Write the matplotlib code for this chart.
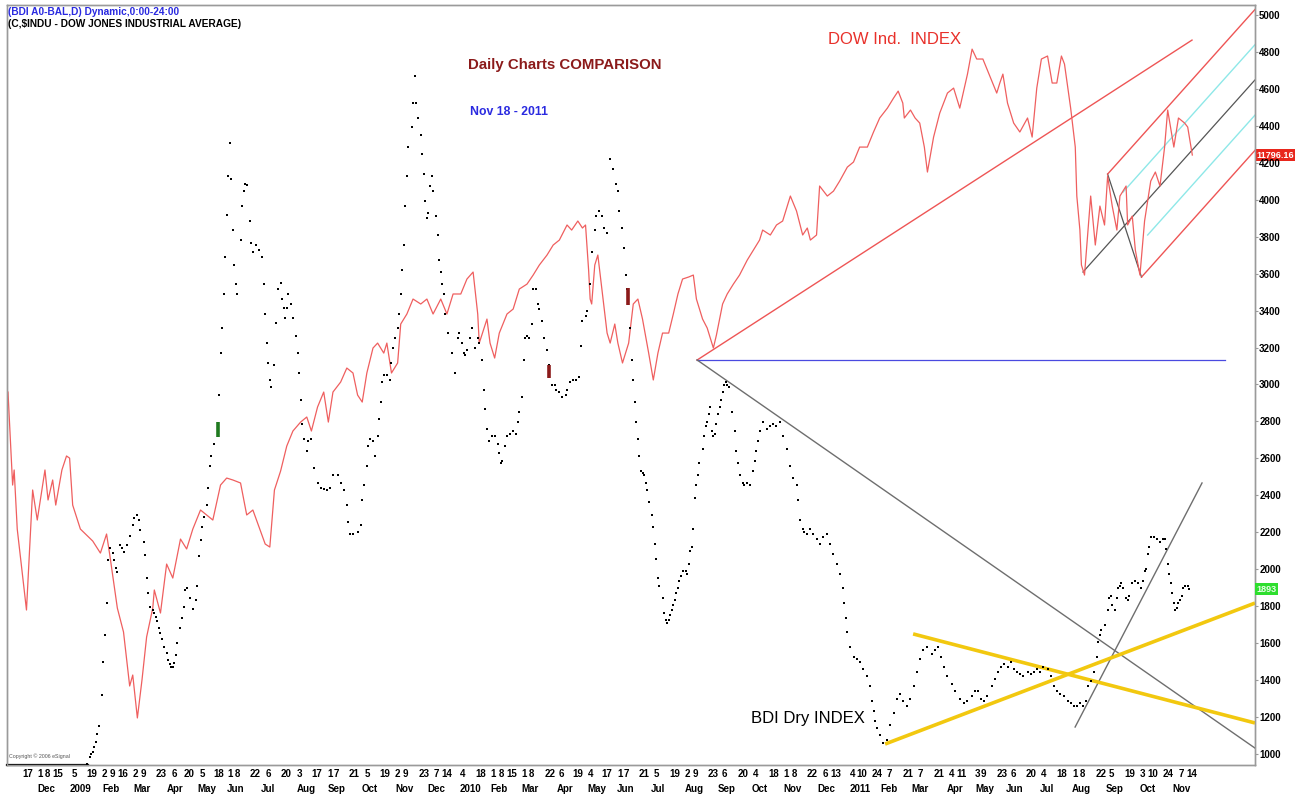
import numpy as np
import matplotlib
matplotlib.use('Agg')
import matplotlib.pyplot as plt
from matplotlib.transforms import blended_transform_factory

plt.rcParams['font.family'] = ['Liberation Sans', 'DejaVu Sans']

# ---------------- data (trading-day number, value) ----------------
DOW_DAY = [0, 3, 4, 6, 12, 16, 19, 24, 26, 29, 31, 35, 38, 40, 42, 47, 51, 55, 60, 64, 66, 71, 75, 79, 81, 84,
           87, 90, 94, 95, 99, 103, 107, 112, 116, 120, 125, 129, 133, 138, 142, 146, 151, 155, 159, 167, 170,
           173, 177, 181, 185, 190, 194, 197, 201, 205, 208, 211, 216, 220, 224, 227, 230, 233, 237, 240, 244,
           246, 249, 253, 255, 259, 263, 268, 272, 276, 281, 285, 289, 294, 298, 302, 305, 306, 311, 313, 316,
           319, 324, 328, 332, 337, 341, 345, 350, 354, 358, 363, 366, 370, 373, 375, 377, 378, 379, 381, 383,
           386, 389, 391, 394, 396, 399, 403, 406, 409, 412, 416, 419, 422, 425, 429, 432, 435, 438, 442, 445,
           447, 451, 454, 458, 460, 464, 467, 471, 475, 480, 484, 488, 490, 495, 499, 503, 508, 512, 516, 519,
           521, 525, 527, 532, 536, 540, 545, 549, 553, 558, 562, 566, 571, 575, 578, 581, 582, 586, 589, 592,
           595, 597, 601, 605, 610, 614, 618, 623, 626, 629, 633, 638, 642, 644, 646, 649, 653, 657, 662, 665,
           668, 671, 675, 678, 681, 684, 686, 690, 693, 694, 696, 697, 699, 703, 706, 709, 712, 714, 717, 720,
           722, 726, 727, 730, 732, 735, 738, 742, 745, 748, 751, 753, 757, 760, 764, 766, 769]
DOW = [9594, 8730, 8870, 8321, 7569, 8684, 8405, 8870, 8591, 8777, 8544, 8870, 9000, 8980, 8544, 8321, 8266,
       8210, 8098, 8275, 8089, 7587, 7365, 6863, 6965, 6566, 6919, 7318, 7587, 7755, 7541, 7996, 7866, 8228,
       8136, 8321, 8498, 8452, 8405, 8730, 8795, 8777, 8749, 8452, 8498, 8182, 8154, 8684, 8860, 9092, 9232,
       9315, 9362, 9232, 9455, 9594, 9315, 9594, 9687, 9817, 9771, 9566, 9501, 9771, 10003, 10049, 9956,
       10049, 9771, 9864, 10226, 10319, 10458, 10412, 10458, 10319, 10458, 10319, 10505, 10505, 10644, 10709,
       10319, 10049, 10272, 10049, 9910, 10142, 10319, 10365, 10551, 10597, 10681, 10774, 10867, 10960, 11006,
       11146, 11099, 11183, 11118, 11146, 10728, 10458, 10412, 10774, 10867, 10505, 10142, 10049, 10226, 10049,
       9864, 10049, 10412, 10458, 10272, 9956, 9706, 9956, 10142, 10142, 10319, 10505, 10644, 10663, 10681,
       10458, 10272, 10189, 10003, 10124, 10412, 10505, 10597, 10681, 10820, 10913, 11006, 11099, 11053, 11146,
       11183, 11415, 11276, 11053, 11118, 11006, 11053, 11508, 11415, 11461, 11554, 11684, 11731, 11870, 11870,
       12010, 12140, 12232, 12325, 12390, 12279, 12140, 12214, 12140, 12093, 11870, 11638, 11963, 12186, 12372,
       12418, 12232, 12548, 12780, 12688, 12688, 12511, 12372, 12465, 12548, 12279, 12093, 12010, 12140, 11963,
       12418, 12688, 12716, 12465, 12465, 12716, 12641, 12232, 11870, 11415, 11100, 10774, 10681, 11415, 10960,
       11322, 11146, 11600, 11322, 11099, 11415, 11508, 11146, 11229, 10913, 10681, 11183, 11554, 11638, 11508,
       11870, 12214, 11870, 12140, 12093, 12056, 11796.16]

BDI_DAY = [51, 53, 54, 55, 56, 57, 58, 59, 61, 62, 63, 64, 65, 66, 68, 69, 70, 71, 73, 74, 75, 77, 79, 81, 82,
           84, 85, 86, 88, 89, 90, 91, 92, 94, 95, 96, 97, 98, 99, 100, 101, 103, 104, 105, 106, 107, 108, 109,
           110, 112, 113, 114, 115, 116, 118, 120, 122, 123, 124, 125, 126, 127, 129, 130, 131, 132, 134, 137,
           138, 139, 140, 141, 142, 143, 144, 145, 146, 147, 148, 149, 151, 152, 153, 154, 155, 157, 158, 159,
           161, 163, 165, 166, 167, 168, 169, 170, 171, 173, 174, 175, 177, 178, 179, 180, 181, 182, 184, 185,
           187, 188, 189, 190, 191, 192, 194, 195, 197, 199, 201, 203, 205, 207, 209, 211, 214, 216, 218, 220,
           221, 222, 224, 227, 229, 230, 231, 233, 234, 235, 237, 238, 240, 241, 242, 243, 244, 246, 248, 249,
           250, 251, 253, 254, 255, 256, 257, 258, 259, 260, 262, 263, 264, 265, 266, 268, 269, 270, 271, 272,
           273, 274, 275, 276, 278, 279, 280, 281, 282, 283, 284, 286, 288, 290, 292, 293, 295, 296, 297, 298,
           300, 301, 303, 305, 306, 308, 309, 310, 311, 312, 314, 316, 318, 319, 320, 321, 323, 324, 326, 328,
           330, 331, 332, 334, 335, 336, 337, 338, 340, 341, 343, 344, 345, 347, 348, 350, 351, 353, 355, 356,
           358, 360, 362, 363, 365, 367, 369, 371, 372, 373, 375, 376, 378, 379, 381, 382, 384, 386, 387, 389,
           391, 393, 395, 396, 397, 399, 400, 401, 402, 404, 405, 406, 407, 408, 409, 410, 411, 412, 413, 414,
           415, 416, 418, 419, 420, 421, 422, 423, 425, 426, 427, 428, 429, 430, 431, 432, 433, 434, 435, 436,
           437, 438, 440, 441, 442, 443, 444, 445, 446, 447, 448, 449, 451, 452, 453, 454, 455, 456, 457, 458,
           459, 460, 461, 462, 463, 464, 465, 466, 467, 468, 470, 472, 473, 474, 475, 477, 478, 480, 482, 484,
           485, 486, 487, 488, 490, 493, 495, 497, 499, 501, 503, 506, 508, 510, 512, 513, 514, 516, 517, 519,
           521, 523, 525, 527, 529, 532, 534, 536, 538, 540, 542, 543, 544, 545, 547, 549, 551, 553, 555, 558,
           560, 561, 562, 563, 564, 566, 568, 571, 573, 575, 577, 579, 581, 584, 586, 588, 590, 592, 594, 597,
           600, 602, 604, 606, 608, 610, 613, 615, 618, 621, 623, 626, 628, 630, 632, 634, 636, 639, 641, 643,
           645, 647, 649, 651, 653, 655, 657, 659, 662, 664, 666, 668, 670, 672, 675, 677, 679, 681, 683, 686,
           688, 690, 692, 694, 696, 698, 700, 701, 703, 705, 707, 708, 709, 710, 712, 714, 715, 716, 717, 719,
           720, 721, 722, 723, 724, 726, 727, 728, 730, 732, 734, 736, 737, 738, 739, 740, 741, 742, 744, 746,
           748, 750, 751, 752, 753, 754, 755, 756, 757, 758, 759, 760, 761, 762, 763, 764, 766, 767]
BDI = [946, 984, 1000, 1011, 1038, 1065, 1108, 1152, 1319, 1498, 1644, 1817, 2050, 2115, 2088, 2050, 2007, 1985,
       2131, 2115, 2093, 2131, 2180, 2240, 2277, 2294, 2267, 2213, 2148, 2077, 1953, 1872, 1796, 1779, 1763,
       1742, 1720, 1682, 1655, 1622, 1579, 1547, 1509, 1487, 1471, 1471, 1493, 1536, 1601, 1682, 1736, 1796,
       1888, 1899, 1844, 1785, 1834, 1909, 2072, 2158, 2229, 2283, 2348, 2440, 2559, 2613, 2678, 2943, 3171,
       3306, 3490, 3690, 3918, 4129, 4307, 4112, 3836, 3647, 3544, 3490, 3782, 3966, 4048, 4085, 4080, 3885,
       3766, 3717, 3755, 3728, 3690, 3544, 3382, 3225, 3116, 3024, 2987, 3106, 3333, 3517, 3550, 3463, 3414,
       3360, 3414, 3490, 3436, 3360, 3263, 3171, 3062, 2916, 2786, 2705, 2640, 2694, 2705, 2548, 2467, 2440,
       2434, 2429, 2440, 2510, 2510, 2467, 2429, 2348, 2256, 2191, 2191, 2202, 2240, 2375, 2456, 2559, 2667,
       2705, 2694, 2613, 2721, 2813, 2905, 3014, 3052, 3052, 3024, 3116, 3198, 3252, 3306, 3382, 3490, 3620,
       3755, 3966, 4129, 4286, 4394, 4524, 4670, 4524, 4443, 4351, 4248, 4140, 3993, 3901, 3928, 4075, 4129,
       4048, 3912, 3809, 3674, 3609, 3544, 3490, 3382, 3279, 3171, 3062, 3252, 3279, 3225, 3171, 3160, 3187,
       3252, 3306, 3198, 3252, 3225, 3133, 2970, 2867, 2759, 2694, 2721, 2721, 2678, 2629, 2575, 2586, 2667,
       2721, 2732, 2748, 2732, 2797, 2851, 2932, 3133, 3252, 3263, 3252, 3328, 3517, 3517, 3436, 3409, 3344,
       3252, 3187, 3106, 2997, 2997, 2970, 2960, 2932, 2943, 2970, 3014, 3024, 3024, 3041, 3209, 3344, 3371,
       3398, 3544, 3717, 3836, 3912, 3939, 3912, 3847, 3820, 4221, 4167, 4085, 4048, 3939, 3847, 3739, 3593,
       3517, 3306, 3133, 3024, 2905, 2797, 2705, 2613, 2532, 2521, 2510, 2467, 2429, 2364, 2294, 2229, 2137,
       2056, 1953, 1909, 1844, 1763, 1725, 1709, 1725, 1752, 1779, 1807, 1834, 1872, 1899, 1936, 1964, 1991,
       1991, 1974, 2028, 2099, 2121, 2218, 2386, 2456, 2510, 2575, 2651, 2721, 2775, 2797, 2840, 2878, 2748,
       2721, 2732, 2786, 2840, 2878, 2916, 2960, 2997, 3014, 2997, 2987, 2851, 2748, 2640, 2575, 2510, 2467,
       2456, 2467, 2456, 2532, 2586, 2640, 2694, 2748, 2797, 2759, 2775, 2786, 2775, 2797, 2721, 2651, 2559,
       2494, 2456, 2375, 2267, 2218, 2202, 2191, 2218, 2191, 2164, 2137, 2175, 2191, 2137, 2083, 2028, 1974,
       1899, 1817, 1736, 1660, 1579, 1525, 1514, 1498, 1460, 1422, 1368, 1287, 1233, 1179, 1141, 1103, 1060,
       1076, 1157, 1222, 1298, 1325, 1287, 1260, 1298, 1368, 1444, 1514, 1563, 1579, 1541, 1563, 1579, 1525,
       1471, 1422, 1379, 1341, 1298, 1276, 1287, 1314, 1341, 1341, 1298, 1287, 1314, 1368, 1406, 1444, 1471,
       1487, 1471, 1498, 1460, 1444, 1433, 1422, 1444, 1433, 1444, 1460, 1444, 1471, 1460, 1422, 1368, 1341,
       1325, 1314, 1287, 1276, 1260, 1260, 1276, 1260, 1287, 1368, 1395, 1444, 1525, 1606, 1644, 1671, 1698,
       1779, 1844, 1855, 1807, 1779, 1844, 1899, 1909, 1926, 1899, 1844, 1834, 1855, 1926, 1936, 1926, 1899,
       1936, 1991, 2001, 2083, 2121, 2175, 2175, 2164, 2148, 2164, 2164, 2110, 2028, 1974, 1926, 1872, 1817,
       1779, 1790, 1817, 1834, 1855, 1899, 1909, 1909, 1893]

# event markers on the BDI pane (day, low, high, colour)
MARK_DAY = [136.4, 351.3, 402.6]
MARK_LO = [2716, 3035, 3430]
MARK_HI = [2797, 3106, 3522]
MARK_COL = ['#1f7a1f', '#8b1a1a', '#8b1a1a']

# drawn trend lines (day, value)
FAN_DAY = [447.4, 768.8]            # red Dow trend line
FAN_DOW = [9891, 12864]
HLINE_DAY = [447.4, 790.3]          # blue horizontal
HLINE_BDI = 3133
FALL_DAY = [447.4, 809.7]           # grey falling line on BDI
FALL_BDI = [3133, 1032]
STEEP_DAY = [692.9, 775.3]          # grey steep line on BDI
STEEP_BDI = [1146, 2467]
YEL1_DAY = [587.7, 809.7]
YEL1_BDI = [1650, 1168]
YEL2_DAY = [569.5, 809.7]
YEL2_BDI = [1054, 1817]
PF_DAY = [698, 714, 736]            # pitchfork pivots on the Dow
PF_DOW = [10709, 11619, 10662]

# x labels (UK business days)
UK_HOL = ['2008-12-25', '2008-12-26', '2009-01-01', '2009-04-10', '2009-04-13', '2009-05-04', '2009-05-25',
          '2009-08-31', '2009-12-25', '2009-12-28', '2010-01-01', '2010-04-02', '2010-04-05', '2010-05-03',
          '2010-05-31', '2010-08-30', '2010-12-27', '2010-12-28', '2011-01-03', '2011-04-22', '2011-04-25',
          '2011-04-29', '2011-05-02', '2011-05-30', '2011-08-29']
START = '2008-11-04'
LAST = '2011-11-18'
DAY_DATES = ['2008-11-17', '2008-12-01', '2008-12-08', '2008-12-15', '2009-01-05', '2009-01-19', '2009-02-02',
             '2009-02-09', '2009-02-16', '2009-03-02', '2009-03-09', '2009-03-23', '2009-04-06', '2009-04-20',
             '2009-05-05', '2009-05-18', '2009-06-01', '2009-06-08', '2009-06-22', '2009-07-06', '2009-07-20',
             '2009-08-03', '2009-08-17', '2009-09-01', '2009-09-07', '2009-09-21', '2009-10-05', '2009-10-19',
             '2009-11-02', '2009-11-09', '2009-11-23', '2009-12-07', '2009-12-14', '2010-01-04', '2010-01-18',
             '2010-02-01', '2010-02-08', '2010-02-15', '2010-03-01', '2010-03-08', '2010-03-22', '2010-04-06',
             '2010-04-19', '2010-05-04', '2010-05-17', '2010-06-01', '2010-06-07', '2010-06-21', '2010-07-05',
             '2010-07-19', '2010-08-02', '2010-08-09', '2010-08-23', '2010-09-06', '2010-09-20', '2010-10-04',
             '2010-10-18', '2010-11-01', '2010-11-08', '2010-11-22', '2010-12-06', '2010-12-13', '2011-01-04',
             '2011-01-10', '2011-01-24', '2011-02-07', '2011-02-21', '2011-03-07', '2011-03-21', '2011-04-04',
             '2011-04-11', '2011-05-03', '2011-05-09', '2011-05-23', '2011-06-06', '2011-06-20', '2011-07-04',
             '2011-07-18', '2011-08-01', '2011-08-08', '2011-08-22', '2011-09-05', '2011-09-19', '2011-10-03',
             '2011-10-10', '2011-10-24', '2011-11-07', '2011-11-14']
MONTH_DATES = ['2008-12-01', '2009-01-02', '2009-02-02', '2009-03-02', '2009-04-01', '2009-05-01', '2009-06-01',
               '2009-07-01', '2009-08-03', '2009-09-01', '2009-10-01', '2009-11-02', '2009-12-01', '2010-01-04',
               '2010-02-01', '2010-03-01', '2010-04-01', '2010-05-04', '2010-06-01', '2010-07-01', '2010-08-02',
               '2010-09-01', '2010-10-01', '2010-11-01', '2010-12-01', '2011-01-04', '2011-02-01', '2011-03-01',
               '2011-04-01', '2011-05-03', '2011-06-01', '2011-07-01', '2011-08-01', '2011-09-01', '2011-10-03',
               '2011-11-01']
MONTH_TEXT = ['Dec', '2009', 'Feb', 'Mar', 'Apr', 'May', 'Jun', 'Jul', 'Aug', 'Sep', 'Oct', 'Nov', 'Dec',
              '2010', 'Feb', 'Mar', 'Apr', 'May', 'Jun', 'Jul', 'Aug', 'Sep', 'Oct', 'Nov', 'Dec',
              '2011', 'Feb', 'Mar', 'Apr', 'May', 'Jun', 'Jul', 'Aug', 'Sep', 'Oct', 'Nov']
BDI_TICKS = list(range(1000, 5001, 200))

# ---------------- figure ----------------
W, H = 1307, 794
fig = plt.figure(figsize=(W / 100, H / 100), dpi=100)
L, R, T, B = 7, 1255, 5, 765
axd = fig.add_axes([L / W, 1 - B / H, (R - L) / W, (B - T) / H])
axb = axd.twinx()

axd.set_xlim(-0.65, 809.7)
axd.set_ylim(6129, 13190)
axb.set_ylim(940.5, 5054)

# Dow line
axd.plot(DOW_DAY, DOW, color='#ef5f5f', lw=0.9, zorder=3)
# Dow trend line and pitchfork
axd.plot(FAN_DAY, FAN_DOW, color='#ee5555', lw=1.0, zorder=2)
p1 = np.array([PF_DAY[0], PF_DOW[0]], float)
p2 = np.array([PF_DAY[1], PF_DOW[1]], float)
p3 = np.array([PF_DAY[2], PF_DOW[2]], float)
mid = (p2 + p3) / 2
slope = (mid[1] - p1[1]) / (mid[0] - p1[0])
xe = 809.7
axd.plot([p1[0], xe], [p1[1], p1[1] + slope * (xe - p1[0])], color='#555555', lw=0.9, zorder=2)
axd.plot([p2[0], p3[0]], [p2[1], p3[1]], color='#555555', lw=0.9, zorder=2)
axd.plot([p2[0], xe], [p2[1], p2[1] + slope * (xe - p2[0])], color='#ee5555', lw=1.0, zorder=2)
axd.plot([p3[0], xe], [p3[1], p3[1] + slope * (xe - p3[0])], color='#ee5555', lw=1.0, zorder=2)
off_up = (p2[1] - (p1[1] + slope * (p2[0] - p1[0]))) / 2
off_dn = (p3[1] - (p1[1] + slope * (p3[0] - p1[0]))) / 2
for x0, off in ((724, off_up), (740, off_dn)):
    axd.plot([x0, xe], [p1[1] + slope * (x0 - p1[0]) + off, p1[1] + slope * (xe - p1[0]) + off],
             color='#8ee8e8', lw=1.0, zorder=2)

# BDI lines
axb.plot(HLINE_DAY, [HLINE_BDI, HLINE_BDI], color='#4a4ae0', lw=0.9, zorder=2)
axb.plot(FALL_DAY, FALL_BDI, color='#6e6e6e', lw=1.0, zorder=2)
axb.plot(STEEP_DAY, STEEP_BDI, color='#6e6e6e', lw=1.0, zorder=2)
axb.plot(YEL1_DAY, YEL1_BDI, color='#f2c80f', lw=2.6, zorder=2, solid_capstyle='butt')
axb.plot(YEL2_DAY, YEL2_BDI, color='#f2c80f', lw=2.6, zorder=2, solid_capstyle='butt')
axb.scatter(BDI_DAY, BDI, s=4.0, marker='s', color='black', linewidths=0, zorder=4)
for d, lo, hi, c in zip(MARK_DAY, MARK_LO, MARK_HI, MARK_COL):
    axb.plot([d, d], [lo, hi], color=c, lw=2.6, zorder=4, solid_capstyle='butt')

# axes styling
for a in (axd, axb):
    for s in a.spines.values():
        s.set_color('#9a9a9a')
        s.set_linewidth(1.0)
axd.set_yticks([])
axb.set_yticks(BDI_TICKS)
axb.set_yticklabels([str(v) for v in BDI_TICKS], fontsize=7, fontweight='bold')
axb.tick_params(axis='y', length=2, width=0.8, color='#9a9a9a', pad=1)

cal_last = np.busday_count(START, LAST, holidays=UK_HOL)
k = DOW_DAY[-1] / cal_last
day_pos = np.busday_count(START, DAY_DATES, holidays=UK_HOL) * k
month_pos = np.busday_count(START, MONTH_DATES, holidays=UK_HOL) * k
day_text = [str(int(d[-2:])) for d in DAY_DATES]
axd.xaxis.remove_overlapping_locs = False
axd.set_xticks(day_pos)
axd.set_xticklabels(day_text, fontsize=7, fontweight='bold', ha='left')
axd.set_xticks(month_pos, minor=True)
axd.set_xticklabels(MONTH_TEXT, minor=True, fontsize=7, fontweight='bold', ha='left')
axd.tick_params(axis='x', which='major', length=0, pad=3)
axd.tick_params(axis='x', which='minor', length=0, pad=14)

# copyright
axd.plot([0, 0.065], [0, 0], transform=axd.transAxes, color='black', lw=1.6, clip_on=False, zorder=6)
axd.text(0.0015, 0.008, 'Copyright \u00a9 2006 eSignal', transform=axd.transAxes, fontsize=3.8,
         color='#555555', va='bottom', ha='left')

# right-edge value tags
tr_d = blended_transform_factory(axd.transAxes, axd.transData)
axd.text(1.0012, DOW[-1], '11796.16', transform=tr_d, fontsize=6.5, fontweight='bold', color='white',
         ha='left', va='center', zorder=7, clip_on=False,
         bbox=dict(boxstyle='square,pad=0.15', fc='#e8261c', ec='none'))
tr_b = blended_transform_factory(axb.transAxes, axb.transData)
axb.text(1.0012, BDI[-1], '1893', transform=tr_b, fontsize=6.5, fontweight='bold', color='#e8ffe8',
         ha='left', va='center', zorder=7, clip_on=False,
         bbox=dict(boxstyle='square,pad=0.15', fc='#2ede2e', ec='none'))

# texts
def ftxt(px, py, s, **kw):
    fig.text(px / W, 1 - py / H, s, **kw)

ftxt(8, 12, '(BDI A0-BAL,D) Dynamic,0:00-24:00', fontsize=7.3, fontweight='bold', color='#2a2ae0',
     va='center', ha='left')
ftxt(8, 24, '(C,$INDU - DOW JONES INDUSTRIAL AVERAGE)', fontsize=7.3, fontweight='bold', color='black',
     va='center', ha='left')
ftxt(468, 65, 'Daily Charts COMPARISON', fontsize=10.8, fontweight='bold', color='#8b1a1a',
     va='center', ha='left')
ftxt(470, 112, 'Nov 18 - 2011', fontsize=8.8, fontweight='bold', color='#2a2ae0', va='center', ha='left')
ftxt(828, 40, 'DOW Ind.  INDEX', fontsize=12, color='#e8302a', va='center', ha='left')
ftxt(751, 718, 'BDI Dry INDEX', fontsize=12, color='black', va='center', ha='left')

fig.savefig('out.png', dpi=100, facecolor='white')
